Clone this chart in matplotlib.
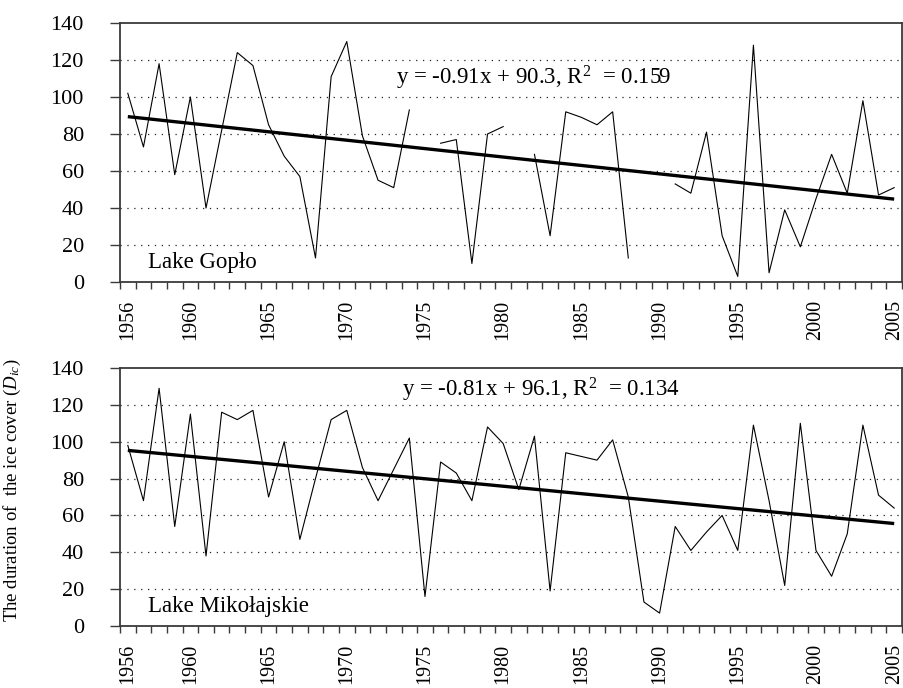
import numpy as np
import matplotlib
matplotlib.use("Agg")
import matplotlib.pyplot as plt
from matplotlib.ticker import FixedLocator, NullFormatter

plt.rcParams['font.family'] = ['Liberation Serif', 'DejaVu Serif']
plt.rcParams['mathtext.fontset'] = 'custom'
plt.rcParams['mathtext.rm'] = 'Liberation Serif'
plt.rcParams['mathtext.it'] = 'Liberation Serif:italic'

nan = np.nan
years = list(range(1956, 2006))
label_years = [1956, 1960, 1965, 1970, 1975, 1980, 1985, 1990, 1995, 2000, 2005]

# Ice-cover duration (days), Lake Gopło (gaps = no observation)
goplo = [102, 73, 118, 58, 100, 40, 82, 124, 117, 85,
         68, 57, 13, 111, 130, 79, 55, 51, 93, nan,
         75, 77, 10, 80, 84, nan, 69, 25, 92, 89,
         85, 92, 13, nan, nan, 53, 48, 81, 25, 3,
         128, 5, 39, 19, 45, 69, 48, 98, 47, 51]

# Ice-cover duration (days), Lake Mikołajskie
mikolajskie = [98, 68, 129, 54, 115, 38, 116, 112, 117, 70,
               100, 47, 80, 112, 117, 86, 68, 85, 102, 16,
               89, 83, 68, 108, 99, 74, 103, 19, 94, 92,
               90, 101, 70, 13, 7, 54, 41, 51, 60, 41,
               109, 68, 22, 110, 41, 27, 50, 109, 71, 64]

# Linear trends (x = year index 1..50)
trend_goplo = (-0.91, 90.3, 0.159)
trend_mik = (-0.81, 96.1, 0.134)

lakes = ["Lake Gopło", "Lake Mikołajskie"]
series = [goplo, mikolajskie]
trends = [trend_goplo, trend_mik]

W, H = 904, 688
fig = plt.figure(figsize=(W / 100, H / 100), dpi=100)

# panel boxes in pixels: (left, top, right, bottom)
boxes = [(120, 23, 902, 282), (120, 368, 902, 626)]
eq_pos = [(0.529, 0.788), (0.538, 0.915)]
frame_col = '#3a3a3a'

x = np.arange(1, len(years) + 1)
for k, (l, t, r, b) in enumerate(boxes):
    ax = fig.add_axes([l / W, (H - b) / H, (r - l) / W, (b - t) / H])
    y = np.array(series[k], dtype=float)
    ax.plot(x, y, color='black', lw=0.8)
    m, c, r2 = trends[k]
    ax.plot(x, m * x + c, color='black', lw=2.4, solid_capstyle='butt')

    ax.set_xlim(0.5, len(years) + 0.5)
    ax.set_ylim(0, 140)
    ax.set_yticks(np.arange(0, 141, 20))
    for g in range(20, 140, 20):
        ax.axhline(g, color='#222222', lw=0.9, ls=(0, (1, 4.5)), zorder=0)

    # labels centred on categories, ticks on category boundaries
    ax.xaxis.set_major_locator(FixedLocator([years.index(yy) + 1 for yy in label_years]))
    ax.set_xticklabels([str(yy) for yy in label_years], rotation=90)
    ax.xaxis.set_minor_locator(FixedLocator(np.arange(0.5, len(years) + 1, 1.0)))
    ax.xaxis.set_minor_formatter(NullFormatter())
    ax.tick_params(axis='x', which='major', length=0, pad=13, labelsize=14.5)
    ax.tick_params(axis='x', which='minor', length=5, width=1.0, color=frame_col, direction='out')
    ax.tick_params(axis='y', which='major', length=7, width=1.0, color=frame_col,
                   direction='out', pad=19, labelsize=16)
    for s in ax.spines.values():
        s.set_color(frame_col)
        s.set_linewidth(1.3)

    ax.text(eq_pos[k][0], eq_pos[k][1],
            "y = %.2fx + %.1f, R$^{2}$  = %.3f" % (m, c, r2),
            transform=ax.transAxes, ha='center', va='center', fontsize=16.5)
    ax.text(0.036, 0.055, lakes[k], transform=ax.transAxes, ha='left',
            va='baseline', fontsize=16.5)

fig.text(0.0135, 0.287, "The duration of  the ice cover ($D_{ic}$)", rotation=90,
         ha='center', va='center', fontsize=13.5)

fig.savefig("out.png", dpi=100)
